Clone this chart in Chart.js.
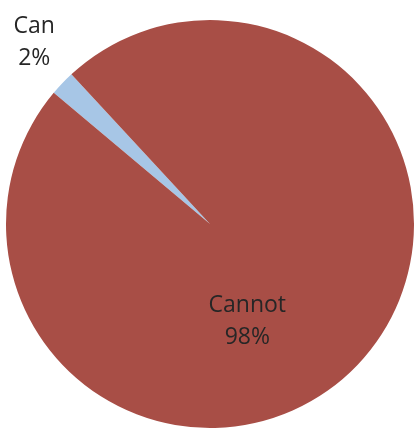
<!DOCTYPE html>
<html>
<head>
<meta charset="utf-8">
<script src="https://cdn.jsdelivr.net/npm/chart.js@4/dist/chart.umd.min.js"></script>
<style>
  html, body { margin: 0; padding: 0; background: #fff; }
  #wrap { width: 414px; height: 431px; }
</style>
</head>
<body>
<div id="wrap"><canvas id="pieChart" width="414" height="431"></canvas></div>
<script>
var categories = ['Can', 'Cannot'];
var shares = [2, 98];
var sliceColors = ['#A7C6E6', '#A84E46'];

// where each label sits: angle (deg from top, clockwise) and distance as fraction of radius
var labelAngles = [-44, 159];
var labelDist = [1.24, 0.51];

var labelPlugin = {
  id: 'sliceLabels',
  afterDatasetsDraw: function(chart) {
    var ctx = chart.ctx;
    var meta = chart.getDatasetMeta(0);
    ctx.save();
    ctx.font = '23px "Open Sans", sans-serif';
    ctx.fillStyle = '#262626';
    ctx.textAlign = 'center';
    ctx.textBaseline = 'middle';
    meta.data.forEach(function(arc, i) {
      var a = (labelAngles[i] - 90) * Math.PI / 180;
      var r = arc.outerRadius * labelDist[i];
      var x = arc.x + Math.cos(a) * r;
      var y = arc.y + Math.sin(a) * r;
      ctx.fillText(categories[i], x, y - 16);
      ctx.fillText(shares[i] + '%', x, y + 16);
    });
    ctx.restore();
  }
};

new Chart(document.getElementById('pieChart').getContext('2d'), {
  type: 'pie',
  data: {
    labels: categories,
    datasets: [{
      data: shares,
      backgroundColor: sliceColors,
      borderWidth: 0
    }]
  },
  options: {
    responsive: false,
    animation: false,
    rotation: -50,
    layout: { padding: { top: 20, bottom: 3, left: 6, right: 0 } },
    plugins: { legend: { display: false }, tooltip: { enabled: false } }
  },
  plugins: [labelPlugin]
});
</script>
</body>
</html>
